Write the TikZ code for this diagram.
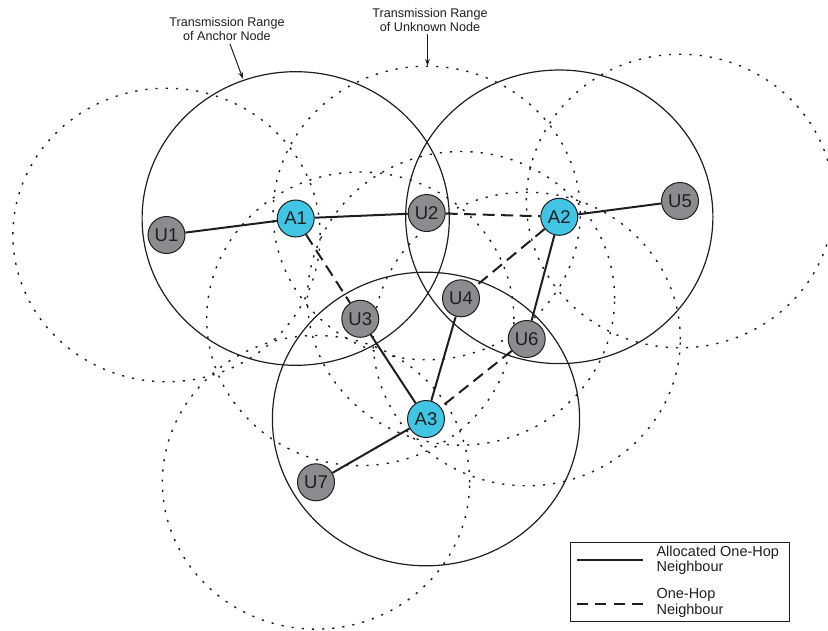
\documentclass[tikz,border=0pt]{standalone}
\usepackage{fontspec}
\setmainfont{Liberation Sans}
\usetikzlibrary{arrows.meta}
\definecolor{anchorfill}{HTML}{42C5E4}
\definecolor{unknownfill}{HTML}{8C8B8F}
\definecolor{inkc}{HTML}{1E1E1E}
\tikzset{
  anchornode/.style={circle, draw=inkc, line width=1pt, fill=anchorfill, minimum size=37pt, inner sep=0pt, font=\fontsize{18.5}{18.5}\selectfont, text=inkc},
  unknownnode/.style={circle, draw=inkc, line width=1pt, fill=unknownfill, minimum size=37pt, inner sep=0pt, font=\fontsize{18.5}{18.5}\selectfont, text=inkc},
  anchorrange/.style={draw=inkc, line width=1.2pt},
  unknownrange/.style={draw=inkc, line width=1.4pt, dash pattern=on 2.2pt off 8pt},
  allocated/.style={draw=inkc, line width=2pt},
  onehop/.style={draw=inkc, line width=2pt, dash pattern=on 12pt off 6.5pt},
  note/.style={font=\fontsize{12.6}{14}\selectfont, align=center, text=inkc},
  legendtext/.style={font=\fontsize{14.5}{15.5}\selectfont, align=left, anchor=west, text=inkc},
  pointer/.style={draw=inkc, line width=1pt, -{Stealth[length=7pt,width=4.5pt]}}
}
\begin{document}
\begin{tikzpicture}[x=1pt,y=-1pt]
\useasboundingbox (0,0) rectangle (828,630);
\begin{scope}
\clip (0,0) rectangle (828,630);

% node positions
\coordinate (pU1) at (166.5,235);
\coordinate (pA1) at (295.7,218.5);
\coordinate (pU2) at (426.7,213);
\coordinate (pA2) at (559.3,216.8);
\coordinate (pU5) at (680,201);
\coordinate (pU4) at (461,298.3);
\coordinate (pU3) at (360.3,318.8);
\coordinate (pU6) at (526.7,339);
\coordinate (pA3) at (426,419);
\coordinate (pU7) at (316,482.3);

% transmission ranges of unknown nodes
\foreach \p in {pU1,pU2,pU5,pU4,pU3,pU6,pU7}
  \draw[unknownrange] (\p) ellipse [x radius=153.6pt, y radius=146.8pt];

% transmission ranges of anchor nodes
\foreach \p in {pA1,pA2,pA3}
  \draw[anchorrange] (\p) ellipse [x radius=153.6pt, y radius=146.8pt];
\end{scope}

% nodes
\node[unknownnode] (U1) at (pU1) {U1};
\node[anchornode]  (A1) at (pA1) {A1};
\node[unknownnode] (U2) at (pU2) {U2};
\node[anchornode]  (A2) at (pA2) {A2};
\node[unknownnode] (U5) at (pU5) {U5};
\node[unknownnode] (U4) at (pU4) {U4};
\node[unknownnode] (U3) at (pU3) {U3};
\node[unknownnode] (U6) at (pU6) {U6};
\node[anchornode]  (A3) at (pA3) {A3};
\node[unknownnode] (U7) at (pU7) {U7};

% neighbour links
\draw[allocated] (U1) -- (A1);
\draw[allocated] (A1) -- (U2);
\draw[onehop]    (U2) -- (A2);
\draw[allocated] (A2) -- (U5);
\draw[onehop]    (A1) -- (U3);
\draw[allocated] (U3) -- (A3);
\draw[onehop]    (A2) -- (U4);
\draw[allocated] (A2) -- (U6);
\draw[allocated] (U4) -- (A3);
\draw[onehop]    (U6) -- (A3);
\draw[allocated] (A3) -- (U7);

% annotations
\node[note] (noteA) at (227,29) {Transmission Range\\of Anchor Node};
\node[note] (noteU) at (430,20) {Transmission Range\\of Unknown Node};
\coordinate (tipA) at (243,79);
\coordinate (tipU) at (427.5,66);
\draw[pointer] (230,44) -- (tipA);
\draw[pointer] (427.5,34) -- (tipU);

% legend
\node[draw=inkc, line width=1.3pt, minimum width=219pt, minimum height=79pt, anchor=north west, inner sep=0pt] (legend) at (570,542) {};
\coordinate (l1a) at (577,559.5);
\coordinate (l1b) at (643,559.5);
\coordinate (l2a) at (577,604);
\coordinate (l2b) at (643,604);
\draw[allocated] (l1a) -- (l1b);
\draw[onehop, dash pattern=on 11pt off 7.3pt] (l2a) -- (l2b);
\node[legendtext] (leg1) at (653,560) {Allocated One-Hop\\Neighbour};
\node[legendtext] (leg2) at (653,603) {One-Hop\\Neighbour};
\end{tikzpicture}
\end{document}
